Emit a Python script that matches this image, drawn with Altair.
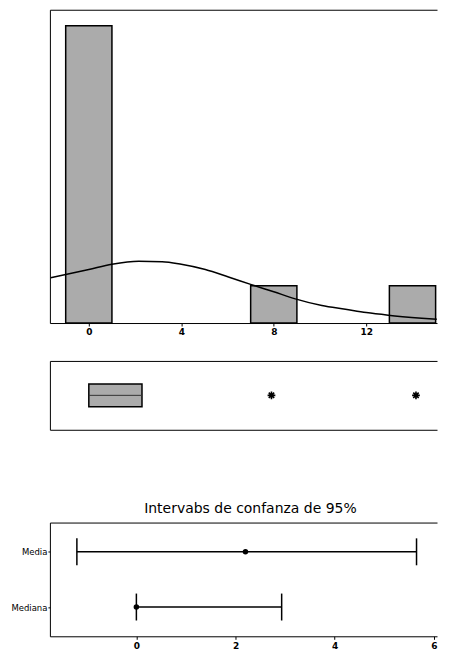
import altair as alt
import pandas as pd

# ---------------- data ----------------
bin_start = [-1, 7, 13]
bin_end = [1, 9, 15]
bin_count = [8, 1, 1]

curve_x = [-1.65, 0, 1.0, 2.16, 3.17, 4, 5.04, 6.04, 7, 8, 8.93, 10.08, 11.1, 12, 12.95, 14.4, 15.05]
curve_y = [1.22, 1.44, 1.58, 1.66, 1.65, 1.58, 1.44, 1.24, 1.04, 0.84, 0.65, 0.47, 0.37, 0.28, 0.21, 0.13, 0.1]

hist_ticks = [0, 4, 8, 12]

box_row = ["C1"]
box_q1 = [0.0]
box_q3 = [2.3]
outlier_vals = [7.9, 14.15]

ci_labels = ["Media", "Mediana"]
ci_low = [-1.2, 0.0]
ci_high = [5.65, 2.93]
ci_est = [2.2, 0.0]
ci_ticks = [0, 2, 4, 6]
ci_title = "Intervabs de confanza de 95%"

FONT = "DejaVu Sans"
W = 388
hist_dom = [-1.683, 15.06]
hist_ymax = 8.43
ci_dom = [-1.744, 6.063]

hist_df = pd.DataFrame({"start": bin_start, "end": bin_end, "count": bin_count})
curve_df = pd.DataFrame({"cx": curve_x, "cy": curve_y})
box_df = pd.DataFrame({"row": box_row, "q1": box_q1, "q3": box_q3})
out_df = pd.DataFrame({"row": ["C1"] * len(outlier_vals), "val": outlier_vals})
ci_df = pd.DataFrame({"label": ci_labels, "low": ci_low, "high": ci_high, "est": ci_est})

frame_axis = dict(title=None, labels=False, ticks=False, grid=False, domain=True,
                  domainColor="black", domainWidth=1)
top_axis = alt.Axis(orient="top", **frame_axis)

# ---------------- histogram with normal curve ----------------
hx_scale = alt.Scale(domain=hist_dom, nice=False, zero=False)
hx_axis = alt.Axis(values=hist_ticks, title=None, grid=False, domain=True, domainColor="black",
                   tickSize=3, tickColor="black", labelFontWeight="bold",
                   labelFontSize=9, labelPadding=2, labelFont=FONT, labelColor="black")
hy_scale = alt.Scale(domain=[0, hist_ymax], nice=False, zero=True)
hy_axis = alt.Axis(**frame_axis)

bars = alt.Chart(hist_df).mark_bar(fill="#ababab", stroke="black", strokeWidth=1.5).encode(
    x=alt.X("start:Q", scale=hx_scale, axis=hx_axis),
    x2="end:Q",
    y=alt.Y("count:Q", scale=hy_scale, axis=hy_axis),
    y2=alt.datum(0),
)
curve = alt.Chart(curve_df).mark_line(color="black", strokeWidth=1.5, interpolate="monotone").encode(
    x=alt.X("cx:Q", scale=hx_scale, axis=top_axis),
    y=alt.Y("cy:Q", scale=hy_scale, axis=hy_axis),
)
hist = alt.layer(bars, curve).resolve_axis(x="independent").properties(width=W, height=314)

# ---------------- boxplot ----------------
bx_scale = alt.Scale(domain=hist_dom, nice=False, zero=False)
by = alt.Y("row:N", axis=alt.Axis(**frame_axis))
bottom_frame = alt.Axis(orient="bottom", **frame_axis)
box = alt.Chart(box_df).mark_bar(size=23, fill="#ababab", stroke="black", strokeWidth=1.5).encode(
    x=alt.X("q1:Q", scale=bx_scale, axis=bottom_frame), x2="q3:Q", y=by)
box_line = alt.Chart(box_df).mark_rule(color="#333333", strokeWidth=1).encode(
    x=alt.X("q1:Q", scale=bx_scale, axis=None), x2="q3:Q", y=by)
star = "M-1,0H1M0,-1V1M-0.7,-0.7L0.7,0.7M-0.7,0.7L0.7,-0.7"
outs = alt.Chart(out_df).mark_point(shape=star, size=60, filled=False, stroke="black",
                                    strokeWidth=1.6, opacity=1).encode(
    x=alt.X("val:Q", scale=bx_scale, axis=top_axis), y=by)
boxp = alt.layer(box, box_line, outs).resolve_axis(x="independent").properties(width=W, height=69)

# ---------------- confidence intervals ----------------
cx_scale = alt.Scale(domain=ci_dom, nice=False, zero=False)
cx_axis = alt.Axis(values=ci_ticks, title=None, grid=False, domain=True, domainColor="black",
                   tickSize=3, tickColor="black", labelFontWeight="bold", labelFontSize=9,
                   labelPadding=2, labelFont=FONT, labelColor="black", orient="bottom")
cy_axis = alt.Axis(title=None, domain=True, domainColor="black", tickSize=2,
                   tickColor="black", labelFontSize=8.5, labelFont=FONT,
                   labelPadding=1, labelColor="black")
cy = alt.Y("label:N", sort=ci_labels, scale=alt.Scale(type="point", padding=0.53), axis=cy_axis)
ci_rule = alt.Chart(ci_df).mark_rule(color="black", strokeWidth=1.5).encode(
    x=alt.X("low:Q", scale=cx_scale, axis=cx_axis), x2="high:Q", y=cy)
ci_lo = alt.Chart(ci_df).mark_tick(color="black", thickness=1.5, size=27, opacity=1).encode(
    x=alt.X("low:Q", scale=cx_scale, axis=None), y=cy)
ci_hi = alt.Chart(ci_df).mark_tick(color="black", thickness=1.5, size=27, opacity=1).encode(
    x=alt.X("high:Q", scale=cx_scale, axis=top_axis), y=cy)
ci_pt = alt.Chart(ci_df).mark_point(filled=True, color="black", size=30, opacity=1).encode(
    x=alt.X("est:Q", scale=cx_scale, axis=None), y=cy)
ci = alt.layer(ci_rule, ci_lo, ci_hi, ci_pt).resolve_axis(x="independent").properties(
    width=W, height=114,
    title=alt.TitleParams(ci_title, fontSize=14, font=FONT, fontWeight="normal",
                          offset=7, anchor="middle", color="black", dx=7))

inner = alt.vconcat(hist, boxp, spacing=22)
chart = alt.vconcat(inner, ci, spacing=70).properties(
    padding={"left": 2, "top": 0, "right": 0, "bottom": 2}
).configure(font=FONT).configure_view(stroke="transparent")

chart.save("out.html", embed_options={"renderer": "svg", "actions": False})
